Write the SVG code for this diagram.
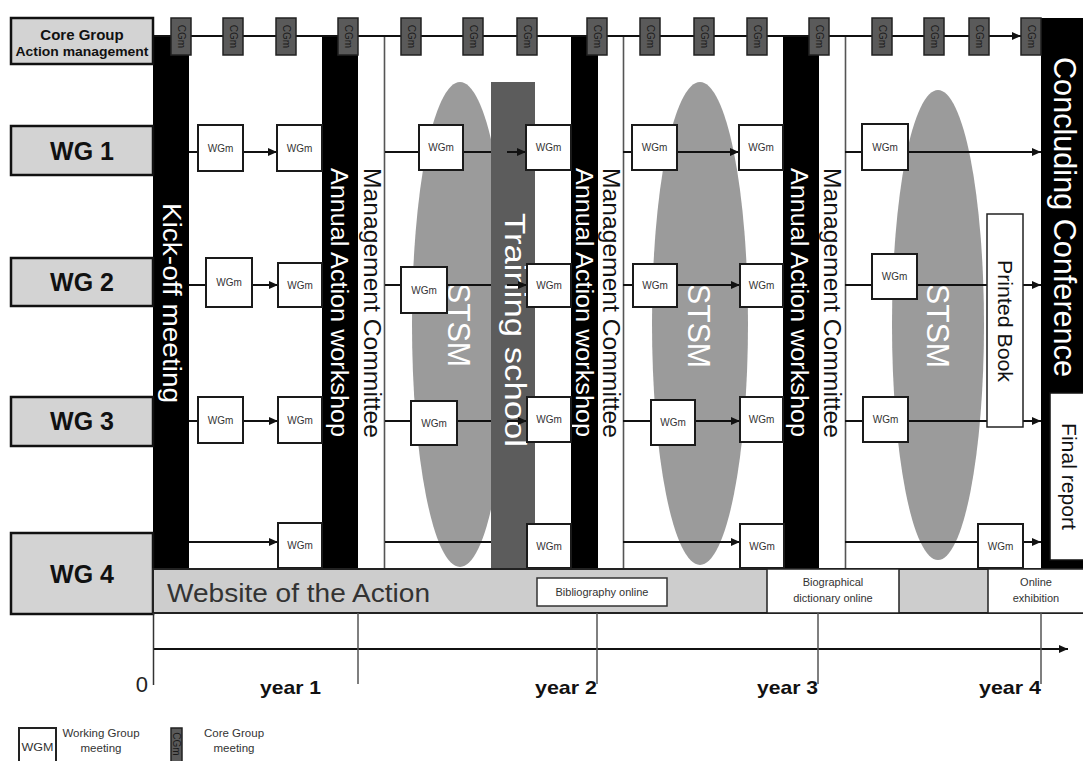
<svg xmlns="http://www.w3.org/2000/svg" width="1083" height="761" viewBox="0 0 1083 761">
<defs>
<marker id="ah" markerUnits="userSpaceOnUse" markerWidth="9" markerHeight="8" refX="9" refY="4" orient="auto"><path d="M0,0 L9,4 L0,8 z" fill="#111"/></marker>
<style>
text{font-family:"Liberation Sans",Arial,sans-serif}
.bar{fill:#000}
.vl{stroke:#555;stroke-width:1.6}
.lbl{fill:#d3d3d3;stroke:#111;stroke-width:2.5}
.lblt{font-size:25px;font-weight:bold;fill:#111;text-anchor:middle}
.wgm rect{fill:#fff;stroke:#1a1a1a;stroke-width:2}
.wgm text{font-size:10px;fill:#333;text-anchor:middle}
.cgm rect{fill:#5a5a5a;stroke:#222;stroke-width:1.5}
.cgm text{font-size:10px;fill:#1a1a1a;text-anchor:middle}
.conn line{stroke:#111;stroke-width:2}
.ell{fill:#9b9b9b}
.wt{fill:#fff}
.bt{fill:#111}
.yr{font-size:19px;font-weight:bold;fill:#111}
.sm{font-size:11px;fill:#333;text-anchor:middle}
.lg{font-size:11.5px;fill:#333;text-anchor:middle}
</style>
</defs>
<rect width="1083" height="761" fill="#fff"/>

<!-- STSM ellipses -->
<g id="stsm1"><ellipse class="ell" cx="460" cy="324.5" rx="48" ry="242.5"/></g>
<g id="stsm2"><ellipse class="ell" cx="700" cy="323.5" rx="48" ry="241.5"/></g>
<g id="stsm3"><ellipse class="ell" cx="938" cy="325" rx="46" ry="235"/></g>

<!-- vertical bars -->
<g id="kickoff"><rect class="bar" x="153" y="36" width="36" height="533"/>
<text class="wt" font-size="26" textLength="200" lengthAdjust="spacingAndGlyphs" transform="translate(163,203) rotate(90)">Kick-off meeting</text></g>
<g id="aaw1"><rect class="bar" x="322" y="36" width="36" height="533"/>
<text class="wt" font-size="23" textLength="269" lengthAdjust="spacingAndGlyphs" transform="translate(331,168) rotate(90)">Annual Action workshop</text></g>
<g id="mc1"><line class="vl" x1="384.5" y1="36" x2="384.5" y2="569"/>
<text class="bt" font-size="23" textLength="270" lengthAdjust="spacingAndGlyphs" transform="translate(364,168) rotate(90)">Management Committee</text></g>
<g id="aaw2"><rect class="bar" x="571" y="36" width="27" height="533"/>
<text class="wt" font-size="23" textLength="269" lengthAdjust="spacingAndGlyphs" transform="translate(576,168) rotate(90)">Annual Action workshop</text></g>
<g id="mc2"><line class="vl" x1="623.5" y1="36" x2="623.5" y2="569"/>
<text class="bt" font-size="23" textLength="270" lengthAdjust="spacingAndGlyphs" transform="translate(603,168) rotate(90)">Management Committee</text></g>
<g id="aaw3"><rect class="bar" x="783" y="36" width="36" height="533"/>
<text class="wt" font-size="23" textLength="269" lengthAdjust="spacingAndGlyphs" transform="translate(791,168) rotate(90)">Annual Action workshop</text></g>
<g id="mc3"><line class="vl" x1="845.5" y1="36" x2="845.5" y2="569"/>
<text class="bt" font-size="23" textLength="270" lengthAdjust="spacingAndGlyphs" transform="translate(824,168) rotate(90)">Management Committee</text></g>

<!-- training school -->
<g id="training"><rect x="491" y="82" width="44" height="487" fill="#5c5c5c"/>
<text class="wt" font-size="30" textLength="234" lengthAdjust="spacingAndGlyphs" transform="translate(505,213) rotate(90)">Training school</text></g>

<!-- concluding conference -->
<g id="concluding"><rect class="bar" x="1041" y="18" width="42" height="551"/>
<text class="wt" font-size="31" textLength="320" lengthAdjust="spacingAndGlyphs" transform="translate(1054,57) rotate(90)">Concluding Conference</text></g>
<g id="finalreport"><rect x="1050" y="393" width="40" height="167" fill="#fff" stroke="#111" stroke-width="1.5"/>
<text class="bt" font-size="20" textLength="107" lengthAdjust="spacingAndGlyphs" transform="translate(1062,423) rotate(90)">Final report</text></g>

<!-- STSM labels -->
<g id="stsm-labels">
<text class="wt" font-size="31" textLength="84" lengthAdjust="spacingAndGlyphs" transform="translate(448,283) rotate(90)">STSM</text>
<text class="wt" font-size="31" textLength="84" lengthAdjust="spacingAndGlyphs" transform="translate(688,284) rotate(90)">STSM</text>
<text class="wt" font-size="31" textLength="84" lengthAdjust="spacingAndGlyphs" transform="translate(927,284) rotate(90)">STSM</text>
</g>

<!-- connectors -->
<g id="connectors" class="conn">
<line x1="153" y1="36" x2="1021" y2="36" marker-end="url(#ah)"/>
<!-- WG1 -->
<line x1="189" y1="152" x2="198" y2="152"/>
<line x1="243" y1="152" x2="277" y2="152" marker-end="url(#ah)"/>
<line x1="385" y1="152" x2="419" y2="152"/>
<line x1="463" y1="152" x2="491" y2="152"/>
<line x1="507" y1="152" x2="526" y2="152" marker-end="url(#ah)"/>
<line x1="623" y1="152" x2="632" y2="152"/>
<line x1="677" y1="152" x2="739" y2="152" marker-end="url(#ah)"/>
<line x1="845" y1="152" x2="862" y2="152"/>
<line x1="909" y1="152" x2="1041" y2="152" marker-end="url(#ah)"/>
<!-- WG2 -->
<line x1="189" y1="285" x2="206" y2="285"/>
<line x1="252" y1="285" x2="278" y2="285" marker-end="url(#ah)"/>
<line x1="385" y1="285" x2="401" y2="285"/>
<line x1="447" y1="285" x2="491" y2="285"/>
<line x1="507" y1="285" x2="527" y2="285" marker-end="url(#ah)"/>
<line x1="623" y1="285" x2="633" y2="285"/>
<line x1="677" y1="285" x2="740" y2="285" marker-end="url(#ah)"/>
<line x1="845" y1="285" x2="872" y2="285"/>
<line x1="917" y1="285" x2="1041" y2="285" marker-end="url(#ah)"/>
<!-- WG3 -->
<line x1="189" y1="421" x2="198" y2="421"/>
<line x1="243" y1="421" x2="278" y2="421" marker-end="url(#ah)"/>
<line x1="385" y1="421" x2="411" y2="421"/>
<line x1="457" y1="421" x2="491" y2="421"/>
<line x1="507" y1="421" x2="527" y2="421" marker-end="url(#ah)"/>
<line x1="623" y1="421" x2="651" y2="421"/>
<line x1="695" y1="421" x2="740" y2="421" marker-end="url(#ah)"/>
<line x1="845" y1="421" x2="863" y2="421"/>
<line x1="908" y1="421" x2="1041" y2="421" marker-end="url(#ah)"/>
<!-- WG4 -->
<line x1="189" y1="542" x2="278" y2="542" marker-end="url(#ah)"/>
<line x1="385" y1="542" x2="491" y2="542"/>
<line x1="623" y1="542" x2="740" y2="542" marker-end="url(#ah)"/>
<line x1="845" y1="542" x2="978" y2="542"/>
<line x1="1023" y1="542" x2="1041" y2="542" marker-end="url(#ah)"/>
<!-- timeline -->
<line x1="153" y1="649" x2="1068" y2="649" marker-end="url(#ah)"/>
</g>

<!-- printed book -->
<g id="printedbook"><rect x="987" y="214" width="36" height="213" fill="#fff" stroke="#222" stroke-width="1.5"/>
<text class="bt" font-size="21" textLength="122" lengthAdjust="spacingAndGlyphs" transform="translate(998,260) rotate(90)">Printed Book</text></g>

<!-- CGm boxes -->
<g id="cgm1" class="cgm"><rect x="171" y="18" width="20" height="37"/><text transform="translate(177.5,36.5) rotate(90)">CGm</text></g>
<g id="cgm2" class="cgm"><rect x="223" y="18" width="20" height="37"/><text transform="translate(229.5,36.5) rotate(90)">CGm</text></g>
<g id="cgm3" class="cgm"><rect x="276" y="18" width="20" height="37"/><text transform="translate(282.5,36.5) rotate(90)">CGm</text></g>
<g id="cgm4" class="cgm"><rect x="338" y="18" width="20" height="37"/><text transform="translate(344.5,36.5) rotate(90)">CGm</text></g>
<g id="cgm5" class="cgm"><rect x="401" y="18" width="20" height="37"/><text transform="translate(407.5,36.5) rotate(90)">CGm</text></g>
<g id="cgm6" class="cgm"><rect x="463" y="18" width="20" height="37"/><text transform="translate(469.5,36.5) rotate(90)">CGm</text></g>
<g id="cgm7" class="cgm"><rect x="517" y="18" width="20" height="37"/><text transform="translate(523.5,36.5) rotate(90)">CGm</text></g>
<g id="cgm8" class="cgm"><rect x="587" y="18" width="20" height="37"/><text transform="translate(593.5,36.5) rotate(90)">CGm</text></g>
<g id="cgm9" class="cgm"><rect x="640" y="18" width="20" height="37"/><text transform="translate(646.5,36.5) rotate(90)">CGm</text></g>
<g id="cgm10" class="cgm"><rect x="694" y="18" width="20" height="37"/><text transform="translate(700.5,36.5) rotate(90)">CGm</text></g>
<g id="cgm11" class="cgm"><rect x="747" y="18" width="20" height="37"/><text transform="translate(753.5,36.5) rotate(90)">CGm</text></g>
<g id="cgm12" class="cgm"><rect x="809" y="18" width="20" height="37"/><text transform="translate(815.5,36.5) rotate(90)">CGm</text></g>
<g id="cgm13" class="cgm"><rect x="872" y="18" width="20" height="37"/><text transform="translate(878.5,36.5) rotate(90)">CGm</text></g>
<g id="cgm14" class="cgm"><rect x="924" y="18" width="20" height="37"/><text transform="translate(930.5,36.5) rotate(90)">CGm</text></g>
<g id="cgm15" class="cgm"><rect x="969" y="18" width="20" height="37"/><text transform="translate(975.5,36.5) rotate(90)">CGm</text></g>
<g id="cgm16" class="cgm"><rect x="1021" y="18" width="20" height="37"/><text transform="translate(1027.5,36.5) rotate(90)">CGm</text></g>

<!-- WGm boxes row 1 -->
<g id="wg1m1" class="wgm"><rect x="198" y="125" width="45" height="46"/><text x="220.5" y="151.5">WGm</text></g>
<g id="wg1m2" class="wgm"><rect x="277" y="125" width="45" height="46"/><text x="299.5" y="151.5">WGm</text></g>
<g id="wg1m3" class="wgm"><rect x="419" y="125" width="44" height="45"/><text x="441" y="151">WGm</text></g>
<g id="wg1m4" class="wgm"><rect x="526" y="125" width="45" height="45"/><text x="548.5" y="151">WGm</text></g>
<g id="wg1m5" class="wgm"><rect x="632" y="125" width="45" height="45"/><text x="654.5" y="151">WGm</text></g>
<g id="wg1m6" class="wgm"><rect x="739" y="125" width="44" height="45"/><text x="761" y="151">WGm</text></g>
<g id="wg1m7" class="wgm"><rect x="862" y="124" width="46" height="46"/><text x="885" y="150.5">WGm</text></g>
<!-- row 2 -->
<g id="wg2m1" class="wgm"><rect x="206" y="258" width="46" height="49"/><text x="229" y="286">WGm</text></g>
<g id="wg2m2" class="wgm"><rect x="278" y="263" width="44" height="44"/><text x="300" y="288.5">WGm</text></g>
<g id="wg2m3" class="wgm"><rect x="401" y="267" width="46" height="46"/><text x="424" y="293.5">WGm</text></g>
<g id="wg2m4" class="wgm"><rect x="527" y="264" width="44" height="43"/><text x="549" y="289">WGm</text></g>
<g id="wg2m5" class="wgm"><rect x="633" y="264" width="44" height="43"/><text x="655" y="289">WGm</text></g>
<g id="wg2m6" class="wgm"><rect x="740" y="264" width="43" height="43"/><text x="761.5" y="289">WGm</text></g>
<g id="wg2m7" class="wgm"><rect x="872" y="254" width="45" height="45"/><text x="894.5" y="280">WGm</text></g>
<!-- row 3 -->
<g id="wg3m1" class="wgm"><rect x="198" y="397" width="45" height="46"/><text x="220.5" y="423.5">WGm</text></g>
<g id="wg3m2" class="wgm"><rect x="278" y="397" width="44" height="46"/><text x="300" y="423.5">WGm</text></g>
<g id="wg3m3" class="wgm"><rect x="411" y="401" width="46" height="44"/><text x="434" y="426.5">WGm</text></g>
<g id="wg3m4" class="wgm"><rect x="527" y="397" width="44" height="45"/><text x="549" y="423">WGm</text></g>
<g id="wg3m5" class="wgm"><rect x="651" y="400" width="44" height="45"/><text x="673" y="426">WGm</text></g>
<g id="wg3m6" class="wgm"><rect x="740" y="397" width="43" height="45"/><text x="761.5" y="423">WGm</text></g>
<g id="wg3m7" class="wgm"><rect x="863" y="397" width="45" height="45"/><text x="885.5" y="423">WGm</text></g>
<!-- row 4 -->
<g id="wg4m1" class="wgm"><rect x="278" y="523" width="44" height="45"/><text x="300" y="549">WGm</text></g>
<g id="wg4m2" class="wgm"><rect x="527" y="524" width="44" height="44"/><text x="549" y="549.5">WGm</text></g>
<g id="wg4m3" class="wgm"><rect x="740" y="524" width="44" height="44"/><text x="762" y="549.5">WGm</text></g>
<g id="wg4m4" class="wgm"><rect x="978" y="524" width="45" height="44"/><text x="1000.5" y="549.5">WGm</text></g>

<!-- left labels -->
<g id="coregroup"><rect class="lbl" x="11" y="18" width="142" height="46"/>
<text x="82" y="40" font-size="15" font-weight="bold" fill="#111" text-anchor="middle">Core Group</text>
<text x="82" y="56" font-size="13" font-weight="bold" fill="#111" text-anchor="middle" textLength="133" lengthAdjust="spacingAndGlyphs">Action management</text></g>
<g id="wg1"><rect class="lbl" x="11" y="126" width="142" height="49"/><text class="lblt" x="82" y="160">WG 1</text></g>
<g id="wg2"><rect class="lbl" x="11" y="258" width="142" height="48"/><text class="lblt" x="82" y="291">WG 2</text></g>
<g id="wg3"><rect class="lbl" x="11" y="397" width="142" height="49"/><text class="lblt" x="82" y="430">WG 3</text></g>
<g id="wg4"><rect class="lbl" x="11" y="533" width="142" height="81"/><text class="lblt" x="82" y="583">WG 4</text></g>

<!-- website row -->
<g id="website"><rect x="153" y="569" width="932" height="44" fill="#cdcdcd" stroke="#222" stroke-width="2"/>
<text x="167" y="602" font-size="26" fill="#333" textLength="263" lengthAdjust="spacingAndGlyphs">Website of the Action</text></g>
<g id="bibliography"><rect x="537" y="578" width="130" height="28" fill="#fff" stroke="#333" stroke-width="1.5"/>
<text class="sm" x="602" y="596">Bibliography online</text></g>
<g id="biographical"><rect x="767" y="569" width="132" height="44" fill="#fff" stroke="#222" stroke-width="1.5"/>
<text class="sm" x="833" y="586">Biographical</text><text class="sm" x="833" y="602">dictionary online</text></g>
<g id="exhibition"><rect x="988" y="569" width="97" height="44" fill="#fff" stroke="#222" stroke-width="1.5"/>
<text class="sm" x="1036" y="586">Online</text><text class="sm" x="1036" y="602">exhibition</text></g>

<!-- timeline ticks and labels -->
<g id="timeline">
<line x1="153.5" y1="613" x2="153.5" y2="685" stroke="#333" stroke-width="1.5"/>
<line x1="358" y1="613" x2="358" y2="684" stroke="#555" stroke-width="1.5"/>
<line x1="597" y1="613" x2="597" y2="684" stroke="#555" stroke-width="1.5"/>
<line x1="818" y1="613" x2="818" y2="684" stroke="#555" stroke-width="1.5"/>
<line x1="1041" y1="613" x2="1041" y2="684" stroke="#555" stroke-width="1.5"/>
<text x="148" y="692" font-size="22" fill="#222" text-anchor="end">0</text>
<text class="yr" x="260" y="694" textLength="61" lengthAdjust="spacingAndGlyphs">year 1</text>
<text class="yr" x="535" y="694" textLength="62" lengthAdjust="spacingAndGlyphs">year 2</text>
<text class="yr" x="757" y="694" textLength="61" lengthAdjust="spacingAndGlyphs">year 3</text>
<text class="yr" x="979" y="694" textLength="62" lengthAdjust="spacingAndGlyphs">year 4</text>
</g>

<!-- legend -->
<g id="legend-wgm"><rect x="19" y="728" width="37" height="40" fill="#fff" stroke="#222" stroke-width="2"/>
<text x="37.5" y="751" font-size="10" fill="#333" text-anchor="middle" textLength="32" lengthAdjust="spacingAndGlyphs">WGM</text>
<text class="lg" x="101" y="737">Working Group</text><text class="lg" x="101" y="752">meeting</text></g>
<g id="legend-cgm" class="cgm"><rect x="171" y="728" width="11" height="40"/><text transform="translate(173,744) rotate(90)" font-size="9">CGm</text></g>
<g id="legend-cgm-text"><text class="lg" x="234" y="737">Core Group</text><text class="lg" x="234" y="752">meeting</text></g>
</svg>
